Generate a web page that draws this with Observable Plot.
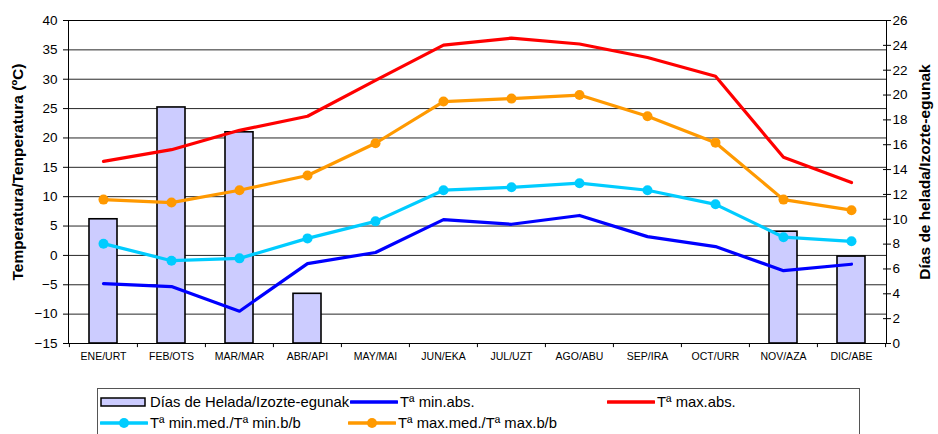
<!DOCTYPE html>
<html>
<head>
<meta charset="utf-8">
<script src="https://cdn.jsdelivr.net/npm/d3@7"></script>
<script src="https://cdn.jsdelivr.net/npm/@observablehq/plot@0.6"></script>
<style>
  html, body { margin: 0; padding: 0; background: #fff; }
  body { width: 938px; height: 434px; overflow: hidden; position: relative; font-family: "Liberation Sans", Arial, sans-serif; }
  #chart { position: absolute; left: 0; top: 0; }
  #legend { position: absolute; left: 97px; top: 388px; width: 763px; height: 48px; border: 1px solid #555; box-sizing: border-box; font-size: 14.8px; color: #000; }
  .item { position: absolute; display: flex; align-items: center; white-space: nowrap; }
  .item svg { display: block; margin-right: 2px; }
</style>
</head>
<body>
<div id="chart"></div>
<div id="legend"></div>
<script>
const months = ["ENE/URT","FEB/OTS","MAR/MAR","ABR/API","MAY/MAI","JUN/EKA","JUL/UZT","AGO/ABU","SEP/IRA","OCT/URR","NOV/AZA","DIC/ABE"];
const frostDays = [10, 19, 17, 4, 0, 0, 0, 0, 0, 0, 9, 7];
const tMinAbs = [-4.8, -5.3, -9.5, -1.4, 0.5, 6.1, 5.3, 6.8, 3.2, 1.5, -2.6, -1.5];
const tMaxAbs = [16.0, 18.0, 21.3, 23.7, 29.8, 35.8, 37.0, 36.0, 33.7, 30.5, 16.7, 12.4];
const tMinMed = [2.0, -0.9, -0.5, 2.9, 5.8, 11.1, 11.6, 12.3, 11.1, 8.7, 3.1, 2.4];
const tMaxMed = [9.5, 9.0, 11.1, 13.6, 19.1, 26.2, 26.7, 27.3, 23.7, 19.2, 9.5, 7.7];
const leftTicks = d3.range(-15, 41, 5);
const rightTicks = d3.range(0, 27, 2);

const seriesNames = {
  frost: "Días de Helada/Izozte-egunak",
  minAbs: "Tª min.abs.",
  maxAbs: "Tª max.abs.",
  minMed: "Tª min.med./Tª min.b/b",
  maxMed: "Tª max.med./Tª max.b/b"
};
const colors = { frost: "#CCCCFF", minAbs: "#0000FF", maxAbs: "#FF0000", minMed: "#00CCFF", maxMed: "#FF9900" };

// right axis (days 0..26) mapped onto left axis (-15..40)
const toLeft = d => -15 + d * 55 / 26;
const toDays = v => Math.round((v + 15) * 26 / 55);

const bars = months.map((m, i) => ({ month: m, days: frostDays[i] })).filter(d => d.days > 0);
const mk = arr => months.map((m, i) => ({ month: m, value: arr[i] }));

const W = 938, H = 372, mL = 68, mR = 52, mT = 20, mB = 29;
const step = (W - mL - mR) / months.length;

const chart = Plot.plot({
  width: W, height: H,
  marginLeft: mL, marginRight: mR, marginTop: mT, marginBottom: mB,
  style: { fontFamily: "'Liberation Sans', Arial, sans-serif", background: "white", color: "#000", overflow: "visible" },
  x: { domain: months, paddingInner: 0.59, paddingOuter: 0.295, axis: null, label: null },
  y: { domain: [-15, 40], axis: null, label: null },
  marks: [
    Plot.ruleY(leftTicks.slice(1), { stroke: "#000", strokeWidth: 1, strokeOpacity: 0.85 }),
    Plot.barY(bars, { x: "month", y1: -15, y2: d => toLeft(d.days), fill: colors.frost, stroke: "#000", strokeWidth: 1.6 }),
    Plot.frame({ stroke: "#000", strokeWidth: 1 }),
    Plot.line(mk(tMinAbs), { x: "month", y: "value", stroke: colors.minAbs, strokeWidth: 3.2 }),
    Plot.line(mk(tMaxAbs), { x: "month", y: "value", stroke: colors.maxAbs, strokeWidth: 3.2 }),
    Plot.line(mk(tMinMed), { x: "month", y: "value", stroke: colors.minMed, strokeWidth: 3.2 }),
    Plot.dot(mk(tMinMed), { x: "month", y: "value", fill: colors.minMed, r: 5 }),
    Plot.line(mk(tMaxMed), { x: "month", y: "value", stroke: colors.maxMed, strokeWidth: 3.2 }),
    Plot.dot(mk(tMaxMed), { x: "month", y: "value", fill: colors.maxMed, r: 5 }),
    // category boundary ticks on the bottom axis
    Plot.ruleX(months, { x: d => d, y1: -15, y2: -15.7, dx: -step / 2, stroke: "#000" }),
    Plot.ruleX([months[months.length - 1]], { x: d => d, y1: -15, y2: -15.7, dx: step / 2, stroke: "#000" }),
    Plot.axisX({ tickSize: 0, tickPadding: 9, fontSize: 10.5, label: null }),
    Plot.axisY({ anchor: "left", ticks: leftTicks, tickSize: 5, tickPadding: 6, fontSize: 13.5, label: null }),
    Plot.axisY({ anchor: "right", ticks: rightTicks.map(toLeft), tickFormat: toDays, tickSize: 4, tickPadding: 2, fontSize: 13.5, label: null }),
    Plot.axisY({ anchor: "right", ticks: rightTicks.map(toLeft), tickFormat: () => "", tickSize: 4, dx: -4, label: null })
  ]
});
document.getElementById("chart").appendChild(chart);

// axis titles
const svg = d3.select(chart);
const midY = 172;
svg.append("text").attr("transform", `translate(23,${midY}) rotate(-90)`)
  .attr("text-anchor", "middle").attr("font-size", 15.5).attr("font-weight", "bold")
  .attr("fill", "#000").text("Temperatura/Tenperatura (ºC)");
svg.append("text").attr("transform", `translate(930,${midY}) rotate(-90)`)
  .attr("text-anchor", "middle").attr("font-size", 15.5).attr("font-weight", "bold")
  .attr("fill", "#000").text("Días de helada/Izozte-egunak");

// legend
const legend = d3.select("#legend");
const items = [
  { key: "frost", x: 2, y: 4, type: "bar" },
  { key: "minAbs", x: 252, y: 4, type: "line" },
  { key: "maxAbs", x: 509, y: 4, type: "line" },
  { key: "minMed", x: 2, y: 25, type: "dot" },
  { key: "maxMed", x: 250, y: 25, type: "dot" }
];
items.forEach(it => {
  const div = legend.append("div").attr("class", "item").style("left", it.x + "px").style("top", it.y + "px").style("height", "18px");
  const s = div.append("svg").attr("width", 48).attr("height", 14);
  if (it.type === "bar") {
    s.append("rect").attr("x", 1).attr("y", 3).attr("width", 44).attr("height", 8)
      .attr("fill", colors.frost).attr("stroke", "#000").attr("stroke-width", 1.5);
  } else {
    s.append("line").attr("x1", 1).attr("x2", 47).attr("y1", 7).attr("y2", 7)
      .attr("stroke", colors[it.key]).attr("stroke-width", 3.5).attr("stroke-linecap", "round");
    if (it.type === "dot") s.append("circle").attr("cx", 24).attr("cy", 7).attr("r", 5).attr("fill", colors[it.key]);
  }
  div.append("span").text(seriesNames[it.key]);
});
</script>
</body>
</html>
